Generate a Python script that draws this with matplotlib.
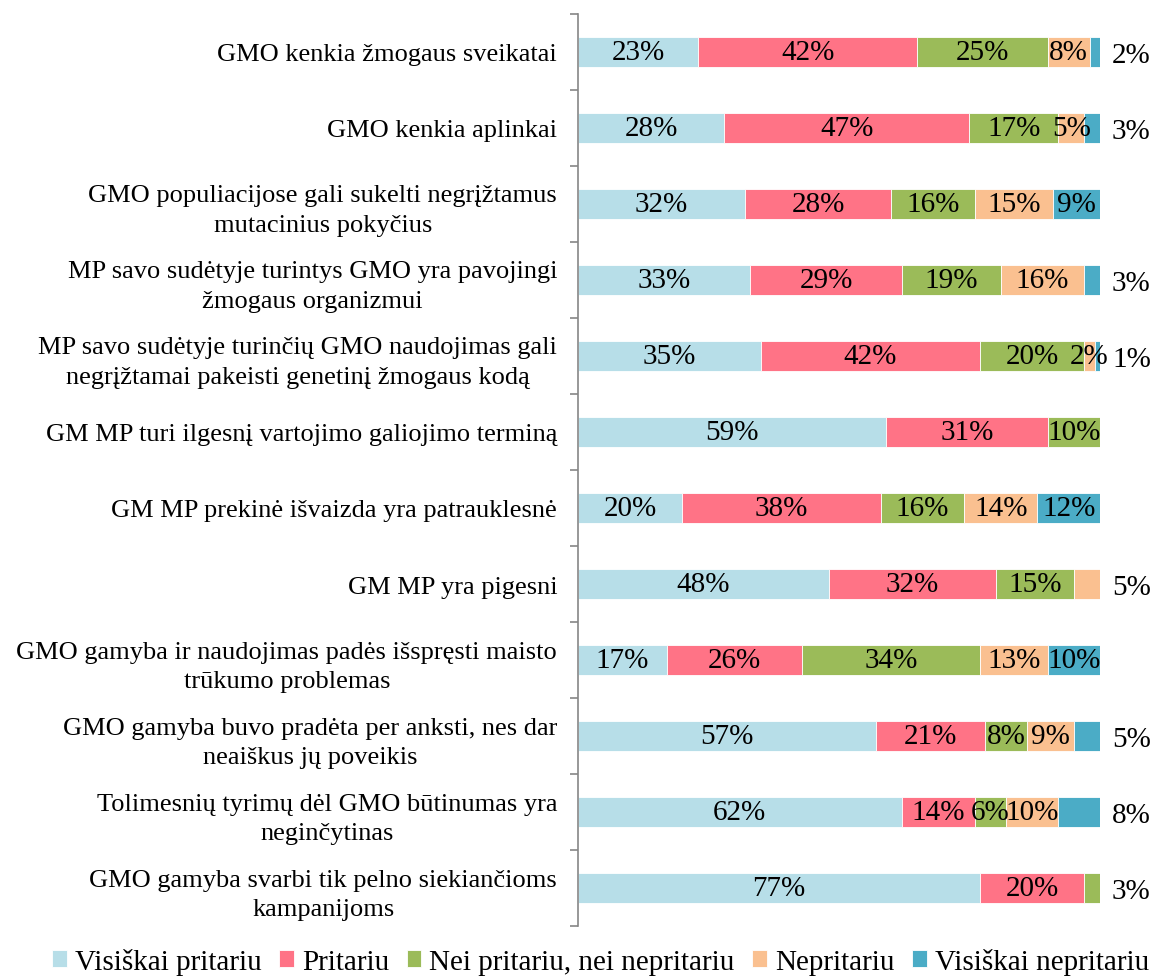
import numpy as np
import matplotlib.pyplot as plt

plt.rcParams['font.family'] = ['Liberation Serif', 'DejaVu Serif']

categories = [
    'GMO kenkia žmogaus sveikatai',
    'GMO kenkia aplinkai',
    'GMO populiacijose gali sukelti negrįžtamus\nmutacinius pokyčius',
    'MP savo sudėtyje turintys GMO yra pavojingi\nžmogaus organizmui',
    'MP savo sudėtyje turinčių GMO naudojimas gali\nnegrįžtamai pakeisti genetinį žmogaus kodą',
    'GM MP turi ilgesnį vartojimo galiojimo terminą',
    'GM MP prekinė išvaizda yra patrauklesnė',
    'GM MP yra pigesni',
    'GMO gamyba ir naudojimas padės išspręsti maisto\ntrūkumo problemas',
    'GMO gamyba buvo pradėta per anksti, nes dar\nneaiškus jų poveikis',
    'Tolimesnių tyrimų dėl GMO būtinumas yra\nneginčytinas',
    'GMO gamyba svarbi tik pelno siekiančioms\nkampanijoms',
]

series = ['Visiškai pritariu', 'Pritariu', 'Nei pritariu, nei nepritariu',
          'Nepritariu', 'Visiškai nepritariu']

visiskai_pritariu = [23, 28, 32, 33, 35, 59, 20, 48, 17, 57, 62, 77]
pritariu = [42, 47, 28, 29, 42, 31, 38, 32, 26, 21, 14, 20]
nei = [25, 17, 16, 19, 20, 10, 16, 15, 34, 8, 6, 3]
nepritariu = [8, 5, 15, 16, 2, 0, 14, 5, 13, 9, 10, 0]
visiskai_nepritariu = [2, 3, 9, 3, 1, 0, 12, 0, 10, 5, 8, 0]

colors = ['#B7DEE8', '#FF7386', '#9BBB59', '#FAC090', '#4BACC6']

data = np.array([visiskai_pritariu, pritariu, nei, nepritariu, visiskai_nepritariu])

fig = plt.figure(figsize=(11.66, 9.79), dpi=100)
ax = fig.add_axes([0.4957, 0.0531, 0.4477, 0.9316])

y = np.arange(len(categories))
left = np.zeros(len(categories))
for i, s in enumerate(series):
    ax.barh(y, data[i], left=left, height=0.4, color=colors[i], label=s,
            edgecolor='white', linewidth=0.6)
    left += data[i]

# procentai ant juostų
fs = 21
for r in range(len(categories)):
    vals = data[:, r]
    nz = np.nonzero(vals)[0]
    last = nz[-1]
    start = 0
    for i in range(len(series)):
        v = vals[i]
        if v == 0:
            continue
        if i == last and v < 9:
            ax.text(102.3, r + 0.04, f'{v}%', ha='left', va='center',
                    fontsize=fs, clip_on=False)
        else:
            ax.text(start + v / 2, r, f'{v}%', ha='center', va='center',
                    fontsize=fs)
        start += v

ax.set_xlim(0, 100)
ax.set_ylim(len(categories) - 0.5, -0.5)
ax.set_yticks(y)
ax.set_yticklabels(categories, fontsize=19)
for lbl in ax.get_yticklabels():
    lbl.set_multialignment('center')
    lbl.set_linespacing(1.45)
ax.set_yticks(np.arange(len(categories) + 1) - 0.5, minor=True)
ax.tick_params(axis='y', which='major', length=0, pad=15)
ax.tick_params(axis='y', which='minor', length=6, color='#868686', width=1.2)
ax.set_xticks([])
for sp in ['top', 'right', 'bottom']:
    ax.spines[sp].set_visible(False)
ax.spines['left'].set_color('#868686')
ax.spines['left'].set_linewidth(1.2)

fig.legend(loc='center', bbox_to_anchor=(0.515, 0.017), ncol=5, frameon=False,
           fontsize=fs, handlelength=0.5, handleheight=0.5, handletextpad=0.28,
           columnspacing=0.6, borderpad=0)

fig.savefig('out.png', dpi=100)
